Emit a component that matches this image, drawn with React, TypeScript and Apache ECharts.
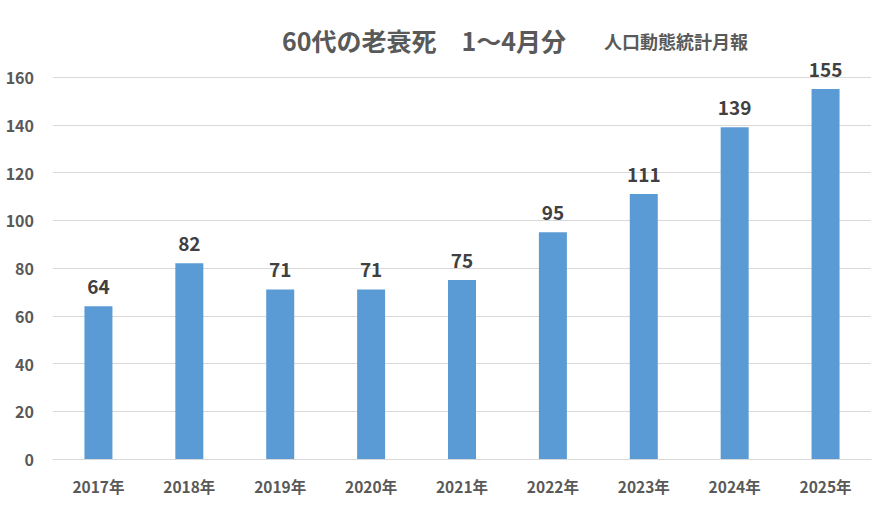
import { useEffect, useRef } from 'react'
import * as echarts from 'echarts'

const years = ['2017年', '2018年', '2019年', '2020年', '2021年', '2022年', '2023年', '2024年', '2025年']
const deaths = [64, 82, 71, 71, 75, 95, 111, 139, 155]

const FONT = '"Noto Sans CJK JP", "Noto Sans", sans-serif'

export default function App() {
  const chartRef = useRef<HTMLDivElement>(null)

  useEffect(() => {
    if (!chartRef.current) return
    const chart = echarts.init(chartRef.current, null, { renderer: 'svg' })

    chart.setOption({
      animation: false,
      textStyle: { fontFamily: FONT },
      title: [
        {
          text: '60代の老衰死　1〜4月分',
          left: 277,
          top: 22,
          textStyle: { fontSize: 25, fontWeight: 'bold', color: '#595959', fontFamily: FONT },
        },
        {
          text: '人口動態統計月報',
          left: 599,
          top: 27,
          textStyle: { fontSize: 18, fontWeight: 'bold', color: '#595959', fontFamily: FONT },
        },
      ],
      grid: { left: 53, right: 10, top: 77, bottom: 52, containLabel: false },
      xAxis: {
        type: 'category',
        data: years,
        axisLine: { lineStyle: { color: '#d9d9d9' } },
        axisTick: { show: false },
        axisLabel: { color: '#595959', fontSize: 15.5, fontWeight: 'bold', margin: 19 },
      },
      yAxis: {
        type: 'value',
        min: 0,
        max: 160,
        interval: 20,
        axisLine: { show: false },
        axisTick: { show: false },
        splitLine: { lineStyle: { color: '#d9d9d9' } },
        axisLabel: { color: '#595959', fontSize: 16, fontWeight: 'bold', margin: 19 },
      },
      series: [
        {
          type: 'bar',
          data: deaths,
          barWidth: 28,
          itemStyle: { color: '#5b9bd5' },
          label: {
            show: true,
            position: 'top',
            distance: 11,
            color: '#404040',
            fontSize: 19,
            fontWeight: 'bold',
            fontFamily: FONT,
          },
        },
      ],
    })

    const resizeHandler = () => chart.resize()
    window.addEventListener('resize', resizeHandler)
    return () => {
      window.removeEventListener('resize', resizeHandler)
      chart.dispose()
    }
  }, [])

  return (
    <div
      ref={chartRef}
      style={{ position: 'fixed', left: 0, top: 0, width: '100vw', height: '100vh', background: '#fff' }}
    />
  )
}
